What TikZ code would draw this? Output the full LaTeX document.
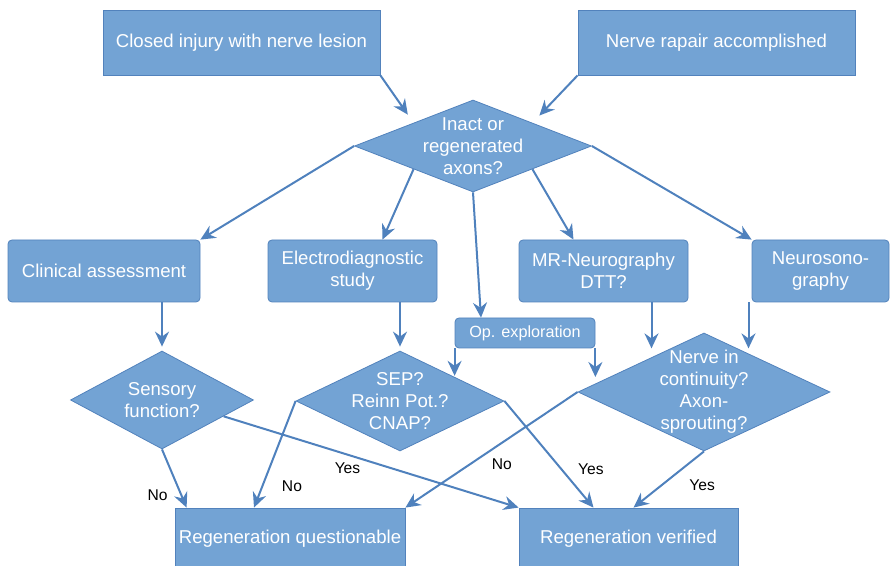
\documentclass[tikz,border=0pt]{standalone}
\usepackage{fontspec}
\setmainfont{Liberation Sans}
\usepackage{tikz}
\usetikzlibrary{shapes,shapes.geometric,positioning,calc}
\usetikzlibrary{arrows.meta}
\definecolor{boxfill}{RGB}{115,163,212}
\definecolor{boxline}{RGB}{82,130,188}
\definecolor{arrowblue}{RGB}{79,129,189}

\begin{document}
\begin{tikzpicture}[x=0.5pt, y=-0.5pt, on grid,
  box_style/.style={rectangle,draw=boxline,fill=boxfill,text=white,align=center,
    font=\fontsize{9.3}{11}\selectfont,inner sep=0pt},
  round_style/.style={box_style,rounded corners=2pt},
  decision_style/.style={diamond,draw=boxline,fill=boxfill,text=white,align=center,
    font=\fontsize{9.3}{11}\selectfont,inner sep=-25pt},
  arrow_style/.style={draw=arrowblue, line width=1pt,-{Stealth[length=7.5pt,width=7pt,inset=2.5pt]}},
  label_style/.style={font=\fontsize{7.8}{9}\selectfont,text=black}]

  \useasboundingbox (0,0) rectangle (890,566);

  \node (closed) [box_style, minimum width=138.5pt, minimum height=32.5pt] at (241.5,42.5) {Closed injury with nerve lesion};
  \node (repair) [box_style, minimum width=138.5pt, minimum height=32.5pt, right=237.5pt of closed] {Nerve rapair accomplished};
  \node (inact) [decision_style, minimum width=118.5pt, minimum height=46pt, below right=51.75pt and 115.75pt of closed] {Inact or\\regenerated\\axons?};
  %
  \node (clinical) [round_style, minimum width=96pt, minimum height=31pt, below left=62.5pt and 184.5pt of inact] {Clinical assessment};
  \node (electro) [round_style, minimum width=84.5pt, minimum height=31pt, right=124.25pt of clinical] {Electrodiagnostic\\study};
  \node (mr) [round_style, minimum width=84.5pt, minimum height=31pt, right=125.5pt of electro] {MR-Neurography\\DTT?};
  \node (neuro) [round_style, minimum width=68.5pt, minimum height=31pt, right=108.5pt of mr] {Neurosono-\\graphy};
  \node (op) [round_style, minimum width=70pt, minimum height=15pt, font=\fontsize{8.1}{10}\selectfont, below right=31pt and 86.25pt of electro] {Op. exploration};
  %
  \node (sensory) [decision_style, minimum width=91.5pt, minimum height=49pt, below right=64.5pt and 29pt of clinical] {Sensory\\function?};
  \node (sep) [decision_style, minimum width=104pt, minimum height=50pt, below right=65pt and 23.75pt of electro] {SEP?\\Reinn Pot.?\\CNAP?};
  \node (nerve) [decision_style, minimum width=126pt, minimum height=59pt, below right=60.5pt and 50.25pt of mr] {Nerve in\\continuity?\\Axon-\\sprouting?};
  %
  \node (quest) [box_style, minimum width=115pt, minimum height=30.5pt, below right=69.25pt and 64pt of sensory] {Regeneration questionable};
  \node (verified) [box_style, minimum width=109.5pt, minimum height=30.5pt, right=169.25pt of quest] {Regeneration verified};
  %
  \draw [arrow_style, shorten >=5pt] (closed.south east) -- (inact.north west);
  \draw [arrow_style, shorten >=5pt] (repair.south west) -- (inact.north east);
  \draw [arrow_style] (inact.west) -- (clinical.north east);
  \draw [arrow_style] (inact.south west) -- ($(electro.north)+(30,0)$);
  \draw [arrow_style] (inact.south) -- ($(op.north)+(-44,0)$);
  \draw [arrow_style] (inact.south east) -- ($(mr.north)+(-30,0)$);
  \draw [arrow_style] (inact.east) -- (neuro.north west);
  %
  \draw [arrow_style, shorten >=2pt] (clinical.south -| sensory.north) -- (sensory.north);
  \draw [arrow_style, shorten >=2pt] (electro.south -| sep.north) -- (sep.north);
  \draw [arrow_style] (op.south west) -- (op.south west |- sep.north east);
  \draw [arrow_style, shorten >=7.5pt] (op.south east) -- (op.south east |- nerve.west);
  \draw [arrow_style] ($(mr.south)+(48,0)$) -- ($(mr.south)+(48,46)$);
  \draw [arrow_style] ($(neuro.south)+(-72,0)$) -- ($(neuro.south)+(-72,46)$);
  %
  \draw [arrow_style] (sensory.south) -- node[label_style,pos=.78,left,xshift=-3pt]{No} ($(quest.north west)+(12,0)$);
  \draw [arrow_style] ($(sensory.east)!0.33!(sensory.south)$) -- node[label_style,pos=.42,below]{Yes} (verified.north west);
  \draw [arrow_style] (sep.west) -- node[label_style,pos=.8,right,xshift=6pt]{No} ($(quest.north)+(-36,0)$);
  \draw [arrow_style] (sep.east) -- node[label_style,pos=.64,right,xshift=4.5pt]{Yes} ($(verified.north)+(-35,0)$);
  \draw [arrow_style] (nerve.west) -- node[label_style,pos=.44,below,yshift=-4pt]{No} (quest.north east);
  \draw [arrow_style] (nerve.south) -- node[label_style,pos=.6,right,xshift=10pt]{Yes} ($(verified.north)+(5,0)$);
\end{tikzpicture}
\end{document}
